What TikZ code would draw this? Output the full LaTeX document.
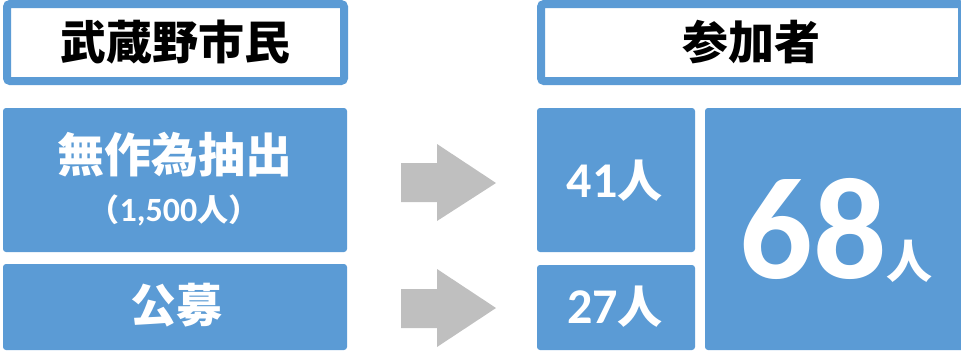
\documentclass[tikz,border=0pt]{standalone}
\usepackage{fontspec}
\newfontfamily\jp{Noto Sans CJK JP}
\newfontfamily\num{Carlito}
\definecolor{boxblue}{HTML}{5B9BD5}
\definecolor{arrowgray}{HTML}{BFBFBF}
\begin{document}
\begin{tikzpicture}[x=1pt,y=-1pt,
  header/.style={draw=boxblue, line width=8pt, fill=white, rounded corners=3pt, inner sep=0pt, outer sep=0pt},
  bluebox/.style={fill=boxblue, rounded corners=3pt, inner sep=0pt, outer sep=0pt},
  headtext/.style={font=\jp\bfseries\fontsize{46}{50}\selectfont, text=black, inner sep=0pt},
  whitetext/.style={text=white, inner sep=0pt},
  blockarrow/.style={fill=arrowgray}]
\useasboundingbox (0,0) rectangle (961,354);
\clip (0,0) rectangle (961,354);
% headers
\node[header, minimum width=337pt, minimum height=77pt] (hl) at (175.5,42.5) {};
\node[headtext] (hlt) at (175.5,42) {武蔵野市民};
\node[header, minimum width=421pt, minimum height=77pt] (hr) at (751.5,42.5) {};
\node[headtext] (hrt) at (751,42) {参加者};
% left boxes
\node[bluebox, minimum width=344pt, minimum height=144pt] (b1) at (175,180) {};
\node[whitetext, font=\jp\bfseries\fontsize{47}{50}\selectfont] (b1t) at (175,155) {無作為抽出};
\node[whitetext, anchor=base] (b1s) at (174,221) {{\jp\bfseries\fontsize{31}{34}\selectfont （}{\num\bfseries\fontsize{34}{34}\selectfont 1,500}{\jp\bfseries\fontsize{31}{34}\selectfont 人）}};
\node[bluebox, minimum width=344pt, minimum height=86pt] (b2) at (175,307) {};
\node[whitetext, font=\jp\bfseries\fontsize{46}{50}\selectfont] (b2t) at (176,305) {公募};
% arrows
\fill[blockarrow] (401,163) -- (437,163) -- (437,144) -- (496,183) -- (437,221) -- (437,202) -- (401,202) -- cycle;
\fill[blockarrow] (401,289) -- (437,289) -- (437,269) -- (496,308) -- (437,347) -- (437,328) -- (401,328) -- cycle;
% right boxes
\node[bluebox, minimum width=158pt, minimum height=144pt] (r1) at (616,180) {};
\node[whitetext, anchor=base] (r1t) at (614.5,197) {{\num\bfseries\fontsize{50}{50}\selectfont 41}{\jp\bfseries\fontsize{45}{50}\selectfont 人}};
\node[bluebox, minimum width=158pt, minimum height=85pt] (r2) at (616,307.5) {};
\node[whitetext, anchor=base] (r2t) at (615,323) {{\num\bfseries\fontsize{50}{50}\selectfont 27}{\jp\bfseries\fontsize{45}{50}\selectfont 人}};
\node[bluebox, minimum width=262pt, minimum height=242pt] (r3) at (836,229) {};
\node[whitetext, anchor=base] (r3t) at (836,278) {{\num\bfseries\fontsize{145}{145}\selectfont 68}{\jp\bfseries\fontsize{46}{50}\selectfont 人}};
\end{tikzpicture}
\end{document}
